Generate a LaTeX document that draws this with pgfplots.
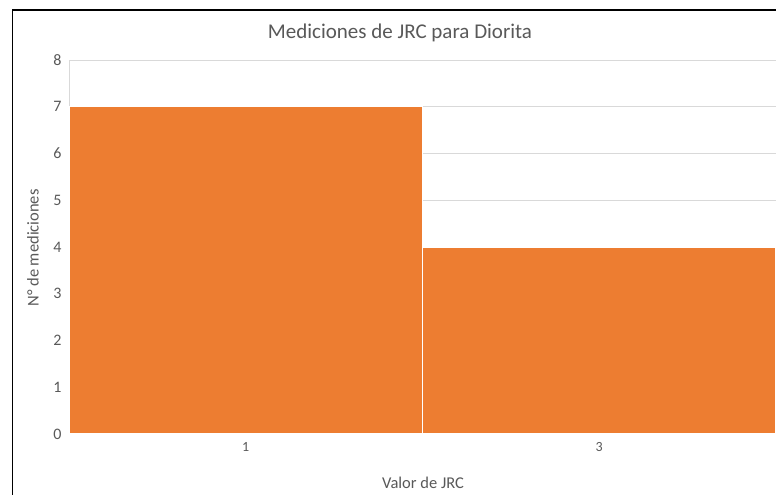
\documentclass[border=0pt]{standalone}
\usepackage{fontspec}
\setmainfont{Carlito}
\usepackage{pgfplots}
\pgfplotsset{compat=1.18}
\definecolor{barorange}{HTML}{ED7D31}
\definecolor{txtgray}{HTML}{595959}
\definecolor{gridgray}{HTML}{D9D9D9}

\begin{document}
\begin{tikzpicture}
\clip (0pt,0pt) rectangle (776pt,495pt);
\fill[white] (0pt,0pt) rectangle (776pt,495pt);
% chart area border (left and top edges visible)
\draw[black, line width=1.3pt] (12.5pt,-10pt) -- (12.5pt,485pt) -- (800pt,485pt);
\begin{axis}[
    at={(69pt,61pt)}, anchor=south west,
    scale only axis, width=707pt, height=374pt,
    xmin=0, xmax=4, ymin=0, ymax=8,
    ytick={0,1,...,8},
    xtick={1,3}, xticklabels={1,3},
    major tick length=0pt,
    axis lines=left,
    axis line style={draw=gridgray, line width=0.9pt, -},
    ymajorgrids, grid style={draw=gridgray, line width=0.9pt},
    yticklabel style={font=\fontsize{16}{18}\selectfont, text=txtgray, xshift=-4pt},
    xticklabel style={font=\fontsize{14}{16}\selectfont, text=txtgray, yshift=-5pt},
    /pgf/number format/assume math mode=true,
    clip=false,
]
\addplot[ybar, bar width=2, fill=barorange, draw=white, line width=1.2pt] coordinates {
  (1,7) (3,4)};
\end{axis}
\node[text=txtgray, font=\fontsize{21}{24}\selectfont] at (400pt,462pt) {Mediciones de JRC para Diorita};
\node[text=txtgray, font=\fontsize{16.5}{19}\selectfont, rotate=90] at (33pt,247pt) {N° de mediciones};
\node[text=txtgray, font=\fontsize{16.5}{19}\selectfont] at (423pt,12pt) {Valor de JRC};
\end{tikzpicture}
\end{document}
